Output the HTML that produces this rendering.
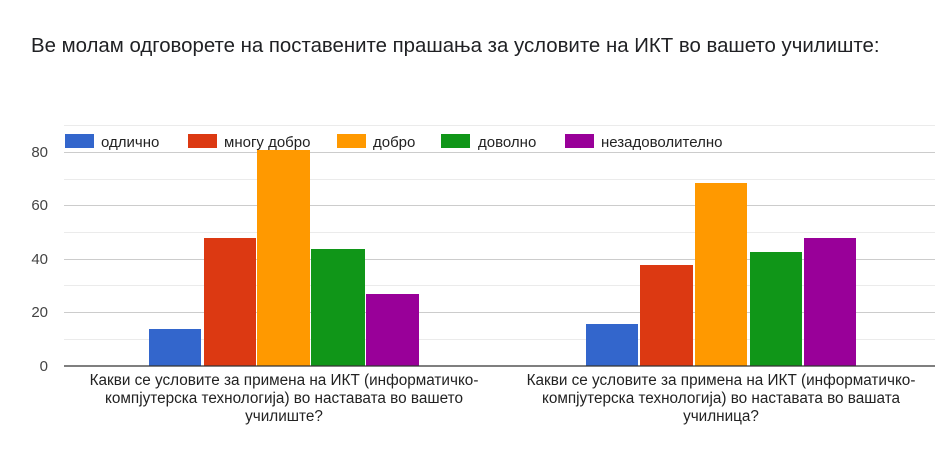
<!DOCTYPE html>
<html><head><meta charset="utf-8"><style>
body{margin:0;background:#fff;width:941px;height:460px;overflow:hidden}
svg{display:block;font-family:"Liberation Sans",sans-serif}
</style></head><body>
<svg width="941" height="460" xmlns="http://www.w3.org/2000/svg">
<text x="31" y="52" font-size="20.4" fill="#202124">Ве молам одговорете на поставените прашања за условите на ИКТ во вашето училиште:</text>
<g stroke="#ebebeb" stroke-width="1">
<line x1="64" x2="935" y1="125.5" y2="125.5"/>
<line x1="64" x2="935" y1="179.5" y2="179.5"/>
<line x1="64" x2="935" y1="232.5" y2="232.5"/>
<line x1="64" x2="935" y1="285.5" y2="285.5"/>
<line x1="64" x2="935" y1="339.5" y2="339.5"/>
</g>
<g stroke="#cccccc" stroke-width="1">
<line x1="64" x2="935" y1="152.5" y2="152.5"/>
<line x1="64" x2="935" y1="205.5" y2="205.5"/>
<line x1="64" x2="935" y1="259.5" y2="259.5"/>
<line x1="64" x2="935" y1="312.5" y2="312.5"/>
</g>
<g font-size="15" fill="#444" text-anchor="end">
<text x="48" y="157">80</text><text x="48" y="210">60</text><text x="48" y="264">40</text><text x="48" y="317">20</text><text x="48" y="371">0</text>
</g>
<rect x="149" y="329" width="52" height="37" fill="#3366cc"/>
<rect x="204" y="238" width="52" height="128" fill="#dc3912"/>
<rect x="257" y="150" width="53" height="216" fill="#ff9900"/>
<rect x="311" y="249" width="54" height="117" fill="#109618"/>
<rect x="366" y="294" width="53" height="72" fill="#990099"/>
<rect x="586" y="324" width="52" height="42" fill="#3366cc"/>
<rect x="640" y="265" width="53" height="101" fill="#dc3912"/>
<rect x="695" y="183" width="52" height="183" fill="#ff9900"/>
<rect x="750" y="252" width="52" height="114" fill="#109618"/>
<rect x="804" y="238" width="52" height="128" fill="#990099"/>
<line x1="64" x2="935" y1="366" y2="366" stroke="#333" stroke-width="1.2"/>
<rect x="65" y="134" width="29" height="14" fill="#3366cc"/>
<rect x="188" y="134" width="29" height="14" fill="#dc3912"/>
<rect x="337" y="134" width="29" height="14" fill="#ff9900"/>
<rect x="441" y="134" width="29" height="14" fill="#109618"/>
<rect x="565" y="134" width="29" height="14" fill="#990099"/>
<g font-size="15" fill="#222">
<text x="101" y="147">одлично</text><text x="224" y="147">многу добро</text><text x="373" y="147">добро</text><text x="478" y="147">доволно</text><text x="601" y="147">незадоволително</text>
</g>
<g font-size="15.3" fill="#222" text-anchor="middle">
<text x="284" y="385">Какви се условите за примена на ИКТ (информатичко-</text>
<text x="284" y="403">компјутерска технологија) во наставата во вашето</text>
<text x="284" y="421">училиште?</text>
<text x="721" y="385">Какви се условите за примена на ИКТ (информатичко-</text>
<text x="721" y="403">компјутерска технологија) во наставата во вашата</text>
<text x="721" y="421">училница?</text>
</g>
</svg>
</body></html>
